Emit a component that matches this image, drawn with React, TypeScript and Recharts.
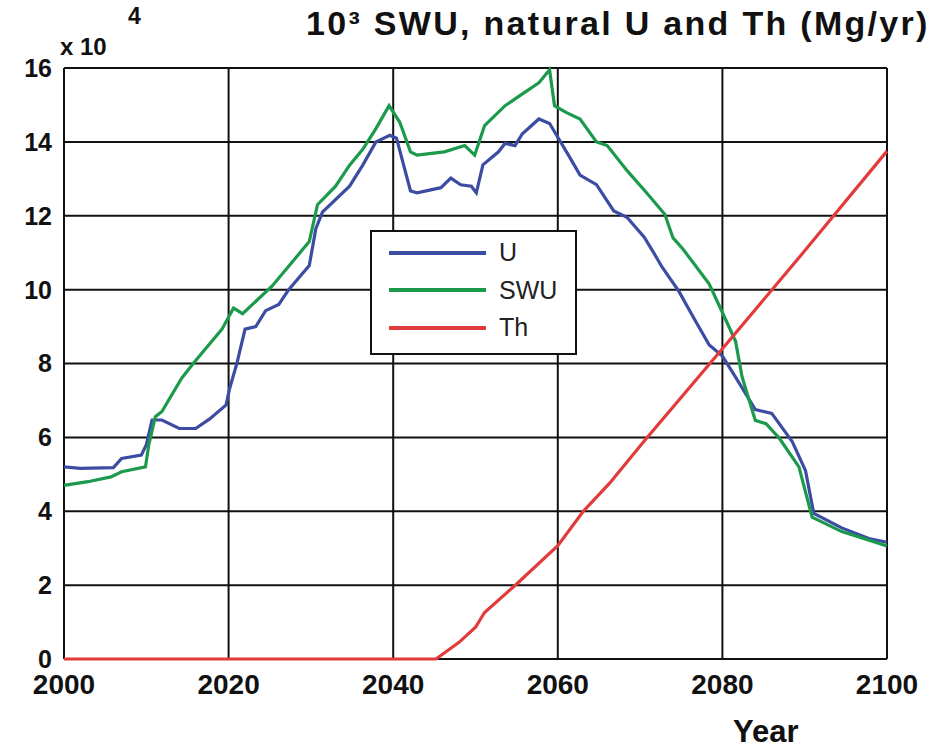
import React from 'react';
import { LineChart, Line, XAxis, YAxis, CartesianGrid, Legend } from 'recharts';

// Years and values (x 10^4 Mg/yr)
const uYears = [2000, 2002, 2006, 2007, 2009.4, 2010, 2010.7, 2011.9, 2014, 2016, 2017.7, 2019.7, 2020.1, 2021, 2022, 2023.3, 2024.5, 2026.1, 2027.3, 2029.8, 2030.6, 2031.4, 2034.7, 2036.3, 2037.9, 2039.6, 2040.4, 2042.1, 2042.9, 2045.8, 2047, 2048.2, 2049.5, 2050.1, 2050.9, 2052.8, 2053.6, 2054.8, 2055.7, 2057.7, 2059, 2060.2, 2061.4, 2062.7, 2064.7, 2066.8, 2068.4, 2070.5, 2071.7, 2072.7, 2074.7, 2076.4, 2078.4, 2080, 2081.6, 2084, 2086, 2088.5, 2090.1, 2091.1, 2094.5, 2097.8, 2100];
const uValues = [5.2, 5.16, 5.18, 5.43, 5.52, 5.8, 6.47, 6.47, 6.24, 6.24, 6.5, 6.88, 7.3, 8.0, 8.93, 9.0, 9.43, 9.6, 10.0, 10.65, 11.65, 12.1, 12.8, 13.37, 14.0, 14.18, 14.1, 12.67, 12.62, 12.76, 13.02, 12.84, 12.8, 12.62, 13.38, 13.73, 13.96, 13.9, 14.22, 14.62, 14.5, 14.05, 13.6, 13.1, 12.84, 12.13, 11.96, 11.42, 10.98, 10.6, 9.96, 9.28, 8.5, 8.2, 7.63, 6.75, 6.65, 5.88, 5.1, 3.94, 3.55, 3.26, 3.16];

const swuYears = [2000, 2002.9, 2005.7, 2007, 2009.9, 2010.3, 2011.1, 2011.9, 2014.3, 2015.7, 2019.2, 2020.6, 2021.7, 2025.3, 2029.8, 2030.8, 2033, 2034.7, 2036.3, 2037.9, 2039.5, 2040.8, 2042.1, 2042.9, 2046.2, 2048.7, 2049.9, 2051.1, 2053.6, 2055.3, 2057.7, 2059, 2059.6, 2061, 2062.7, 2064.7, 2066, 2068.5, 2070.6, 2073, 2074, 2075.2, 2078.4, 2080, 2081.6, 2082.4, 2084, 2085.3, 2086.9, 2089.3, 2090.9, 2094.5, 2100];
const swuValues = [4.7, 4.8, 4.93, 5.07, 5.2, 5.8, 6.56, 6.7, 7.6, 8.0, 8.93, 9.5, 9.35, 10.1, 11.3, 12.3, 12.8, 13.37, 13.8, 14.36, 14.98, 14.53, 13.73, 13.64, 13.73, 13.9, 13.64, 14.44, 14.98, 15.24, 15.6, 15.95, 14.98, 14.8, 14.62, 14.0, 13.9, 13.2, 12.67, 12.04, 11.4, 11.1, 10.15, 9.38, 8.6, 7.63, 6.46, 6.37, 5.98, 5.2, 3.84, 3.45, 3.06];

const thYears = [2000, 2045.2, 2048, 2050, 2051.1, 2054.8, 2060, 2063.1, 2066.3, 2070.5, 2080, 2090, 2100];
const thValues = [0, 0, 0.45, 0.86, 1.26, 1.99, 3.07, 4.0, 4.76, 5.9, 8.4, 11.05, 13.75];

const xTicks = [2000, 2020, 2040, 2060, 2080, 2100];
const yTicks = [0, 2, 4, 6, 8, 10, 12, 14, 16];

const seriesNames = ['U', 'SWU', 'Th'];
const seriesColors = ['#3d4ca3', '#1c9a4c', '#e23b3b'];

const toPoints = (years: number[], values: number[]) =>
  years.map((year, i) => ({ year, value: values[i] }));

const seriesData = [
  toPoints(uYears, uValues),
  toPoints(swuYears, swuValues),
  toPoints(thYears, thValues),
];

const FONT = '"Liberation Sans", Arial, sans-serif';

const LegendBox = (props: any) => {
  const payload = ((props.payload || []) as any[])
    .slice()
    .sort((a, b) => seriesNames.indexOf(a.value) - seriesNames.indexOf(b.value));
  return (
    <div
      style={{
        width: 207,
        height: 125,
        border: '2px solid #111',
        background: '#fff',
        boxSizing: 'border-box',
        paddingTop: 2,
        fontFamily: FONT,
      }}
    >
      {payload.map((entry: any) => (
        <div key={entry.value} style={{ display: 'flex', alignItems: 'center', height: 37.5 }}>
          <span
            style={{
              display: 'inline-block',
              width: 97,
              height: 4,
              background: entry.color,
              marginLeft: 17,
            }}
          />
          <span style={{ marginLeft: 13, fontSize: 25, color: '#222', lineHeight: 1 }}>{entry.value}</span>
        </div>
      ))}
    </div>
  );
};

export default function App() {
  return (
    <div
      style={{
        position: 'absolute',
        left: 0,
        top: 0,
        width: 933,
        height: 753,
        background: '#fff',
        fontFamily: FONT,
        overflow: 'hidden',
      }}
    >
      <LineChart
        width={933}
        height={753}
        margin={{ top: 68, right: 46, bottom: 0, left: 0 }}
      >
        <CartesianGrid stroke="#111" strokeWidth={2} />
        <XAxis
          type="number"
          dataKey="year"
          domain={[2000, 2100]}
          ticks={xTicks}
          height={94}
          tickSize={0}
          tickMargin={15}
          axisLine={false}
          tick={{ fill: '#111', fontSize: 28, fontWeight: 700, fontFamily: FONT }}
        />
        <YAxis
          type="number"
          domain={[0, 16]}
          ticks={yTicks}
          width={64}
          tickSize={0}
          tickMargin={12}
          axisLine={false}
          tick={{ fill: '#111', fontSize: 25, fontWeight: 700, fontFamily: FONT }}
        />
        <Legend
          layout="horizontal"
          verticalAlign="middle"
          align="center"
          content={<LegendBox />}
          wrapperStyle={{ position: 'absolute', left: 370, top: 230, width: 207, height: 125 }}
        />
        {seriesNames.map((name, i) => (
          <Line
            key={name}
            data={seriesData[i]}
            dataKey="value"
            name={name}
            type="linear"
            stroke={seriesColors[i]}
            strokeWidth={3.2}
            dot={false}
            activeDot={false}
            isAnimationActive={false}
          />
        ))}
      </LineChart>
      <div
        style={{
          position: 'absolute',
          left: 306,
          top: 4,
          fontSize: 34,
          fontWeight: 700,
          letterSpacing: 2.3,
          color: '#111',
          whiteSpace: 'nowrap',
        }}
      >
        10³ SWU, natural U and Th (Mg/yr)
      </div>
      <div
        style={{
          position: 'absolute',
          left: 60,
          top: 33,
          fontSize: 24,
          fontWeight: 700,
          color: '#111',
          whiteSpace: 'nowrap',
        }}
      >
        x 10
      </div>
      <div
        style={{
          position: 'absolute',
          left: 128,
          top: 3,
          fontSize: 23,
          fontWeight: 700,
          color: '#111',
        }}
      >
        4
      </div>
      <div
        style={{
          position: 'absolute',
          left: 733,
          top: 716,
          fontSize: 31,
          lineHeight: '31px',
          fontWeight: 700,
          color: '#111',
          whiteSpace: 'nowrap',
        }}
      >
        Year
      </div>
    </div>
  );
}
